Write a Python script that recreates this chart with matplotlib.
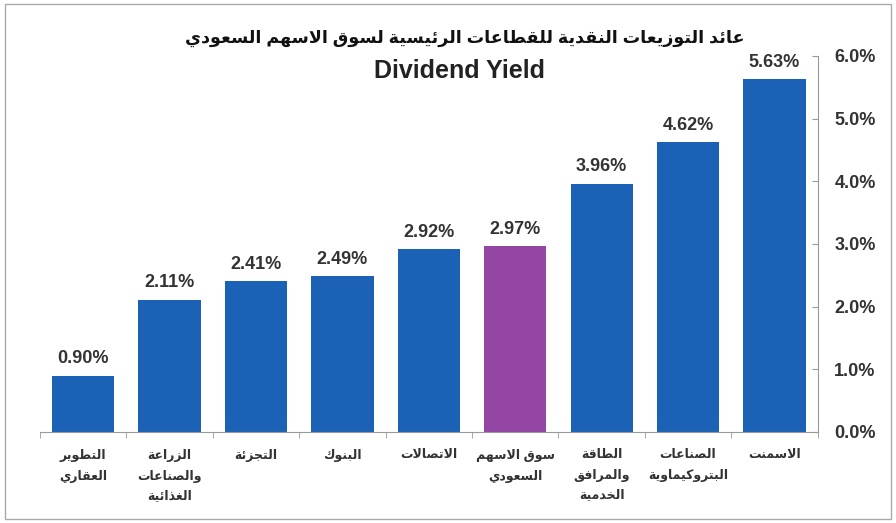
import matplotlib
matplotlib.use('Agg')
import matplotlib.pyplot as plt
from matplotlib.patches import Rectangle

plt.rcParams['font.family'] = ['Liberation Sans', 'DejaVu Sans']

# data
sectors = ['التطوير\nالعقاري', 'الزراعة\nوالصناعات\nالغذائية', 'التجزئة', 'البنوك', 'الاتصالات',
           'سوق الاسهم\nالسعودي', 'الطاقة\nوالمرافق\nالخدمية', 'الصناعات\nالبتروكيماوية', 'الاسمنت']
yields = [0.90, 2.11, 2.41, 2.49, 2.92, 2.97, 3.96, 4.62, 5.63]
market_idx = 5
title_ar = 'عائد التوزيعات النقدية للقطاعات الرئيسية لسوق الاسهم السعودي'
title_en = 'Dividend Yield'
yticks = [0, 1, 2, 3, 4, 5, 6]

# matplotlib does no arabic shaping, so pick presentation forms by hand
FORMS = {
    'ء': (0xFE80, 1), 'آ': (0xFE81, 2), 'أ': (0xFE83, 2), 'ؤ': (0xFE85, 2), 'إ': (0xFE87, 2),
    'ئ': (0xFE89, 4), 'ا': (0xFE8D, 2), 'ب': (0xFE8F, 4), 'ة': (0xFE93, 2), 'ت': (0xFE95, 4),
    'ث': (0xFE99, 4), 'ج': (0xFE9D, 4), 'ح': (0xFEA1, 4), 'خ': (0xFEA5, 4), 'د': (0xFEA9, 2),
    'ذ': (0xFEAB, 2), 'ر': (0xFEAD, 2), 'ز': (0xFEAF, 2), 'س': (0xFEB1, 4), 'ش': (0xFEB5, 4),
    'ص': (0xFEB9, 4), 'ض': (0xFEBD, 4), 'ط': (0xFEC1, 4), 'ظ': (0xFEC5, 4), 'ع': (0xFEC9, 4),
    'غ': (0xFECD, 4), 'ف': (0xFED1, 4), 'ق': (0xFED5, 4), 'ك': (0xFED9, 4), 'ل': (0xFEDD, 4),
    'م': (0xFEE1, 4), 'ن': (0xFEE5, 4), 'ه': (0xFEE9, 4), 'و': (0xFEED, 2), 'ى': (0xFEEF, 2),
    'ي': (0xFEF1, 4),
}
LAM_ALEF = {'ا': 0xFEFB, 'أ': 0xFEF7, 'إ': 0xFEF9, 'آ': 0xFEF5}


def shape_line(text):
    units = []
    i = 0
    while i < len(text):
        c = text[i]
        if c == 'ل' and i + 1 < len(text) and text[i + 1] in LAM_ALEF:
            units.append((LAM_ALEF[text[i + 1]], 2))
            i += 2
            continue
        units.append(FORMS.get(c, (c, 0)))
        i += 1
    out = []
    for k, (start, n) in enumerate(units):
        if n == 0:
            out.append(start)
            continue
        pj = k > 0 and units[k - 1][1] == 4 and n >= 2
        nj = n == 4 and k + 1 < len(units) and units[k + 1][1] >= 2
        idx = 3 if (pj and nj) else 1 if pj else 2 if nj else 0
        out.append(chr(start + idx))
    return ''.join(reversed(out))


def ar(text):
    return '\n'.join(shape_line(line) for line in text.split('\n'))


fig = plt.figure(figsize=(8.96, 5.23), dpi=100)
ax = fig.add_axes([0.0446, 0.174, 0.868, 0.719])

colors = ['#1b62b6'] * len(yields)
colors[market_idx] = '#9346a3'
x = range(len(yields))
bars = ax.bar(x, yields, width=0.72, color=colors)
ax.bar_label(bars, labels=[f'{v:.2f}%' for v in yields], padding=6,
             fontsize=13, fontweight='bold', color='#333333')

ax.set_xlim(-0.5, len(yields) - 0.5)
ax.set_ylim(0, 6)
ax.yaxis.tick_right()
ax.set_yticks(yticks)
ax.set_yticklabels([f'{t:.1f}%' for t in yticks], fontsize=13, fontweight='bold', color='#333333')
ax.tick_params(axis='y', direction='in', length=4, color='#999999', pad=12)

ax.set_xticks(list(x))
ax.set_xticklabels([ar(s) for s in sectors], fontsize=9, fontweight='bold', color='#333333',
                   linespacing=1.8, va='top')
ax.set_xticks([i + 0.5 for i in range(-1, len(yields))], minor=True)
ax.tick_params(axis='x', which='major', length=0, pad=12)
ax.tick_params(axis='x', which='minor', length=4, color='#999999')

for side in ['top', 'left']:
    ax.spines[side].set_visible(False)
ax.spines['bottom'].set_color('#999999')
ax.spines['right'].set_color('#999999')

fig.text(0.519, 1 - 38 / 523, ar(title_ar), ha='center', va='center',
         fontsize=12.6, fontweight='bold', color='#111111')
fig.text(0.513, 1 - 71 / 523, title_en, ha='center', va='center',
         fontsize=18, fontweight='bold', color='#222222')

fig.patches.append(Rectangle((0.006, 0.008), 0.988, 0.984, transform=fig.transFigure,
                             fill=False, edgecolor='#aaaaaa', linewidth=1))

fig.savefig('out.png', dpi=100)
